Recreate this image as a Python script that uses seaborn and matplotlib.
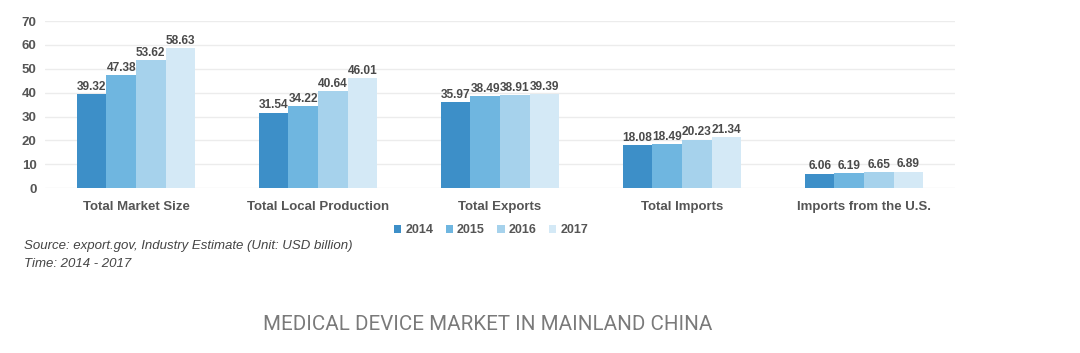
import pandas as pd
import matplotlib.pyplot as plt
import seaborn as sns

# dados
categorias = ['Total Market Size', 'Total Local Production', 'Total Exports',
              'Total Imports', 'Imports from the U.S.']
anos = ['2014', '2015', '2016', '2017']
v2014 = [39.32, 31.54, 35.97, 18.08, 6.06]
v2015 = [47.38, 34.22, 38.49, 18.49, 6.19]
v2016 = [53.62, 40.64, 38.91, 20.23, 6.65]
v2017 = [58.63, 46.01, 39.39, 21.34, 6.89]
cores = ['#3d8fc8', '#6fb6e0', '#a6d2ec', '#d4e9f6']

df = pd.DataFrame({'Categoria': categorias * 4,
                   'Ano': [a for a in anos for _ in categorias],
                   'Valor': v2014 + v2015 + v2016 + v2017})

sns.set_theme(style='white')
plt.rcParams['font.family'] = ['Liberation Sans', 'DejaVu Sans']

fig = plt.figure(figsize=(10.8, 3.53), dpi=100)
ax = fig.add_axes([0.0417, 0.467, 0.8426, 0.4735])

sns.barplot(data=df, x='Categoria', y='Valor', hue='Ano', palette=cores,
            width=0.65, saturation=1, linewidth=0, ax=ax, zorder=3)

for cont in ax.containers:
    ax.bar_label(cont, fmt='%.2f', padding=1, fontsize=8.6, fontweight='bold', color='#4a4a4a')

ax.set_ylim(0, 70)
ax.set_yticks(range(0, 71, 10))
ax.grid(axis='y', color='#ececec', linewidth=1, zorder=0)
sns.despine(ax=ax, left=True, bottom=True)
ax.set_xlabel('')
ax.set_ylabel('')
ax.tick_params(axis='y', labelsize=9.5, labelcolor='#555555', pad=6, length=0)
ax.tick_params(axis='x', labelsize=9.5, labelcolor='#555555', pad=9, length=0)
for t in ax.get_xticklabels() + ax.get_yticklabels():
    t.set_fontweight('bold')

ax.legend(loc='upper center', bbox_to_anchor=(0.49, -0.15), ncol=4, frameon=False,
          handlelength=0.6, handleheight=0.6, handletextpad=0.3,
          columnspacing=1.0, labelcolor='#555555', prop={'weight': 'bold', 'size': 9})

fig.text(0.022, 0.303, 'Source: export.gov, Industry Estimate (Unit: USD billion)',
         fontsize=9.5, style='italic', color='#444444', va='center')
fig.text(0.022, 0.252, 'Time: 2014 - 2017', fontsize=9.5, style='italic',
         color='#444444', va='center')
fig.text(0.452, 0.08, 'MEDICAL DEVICE MARKET IN MAINLAND CHINA', fontsize=14.8,
         color='#7a7a7a', ha='center', va='center', family=['Roboto', 'DejaVu Sans'])

plt.savefig('out.png', dpi=100)
